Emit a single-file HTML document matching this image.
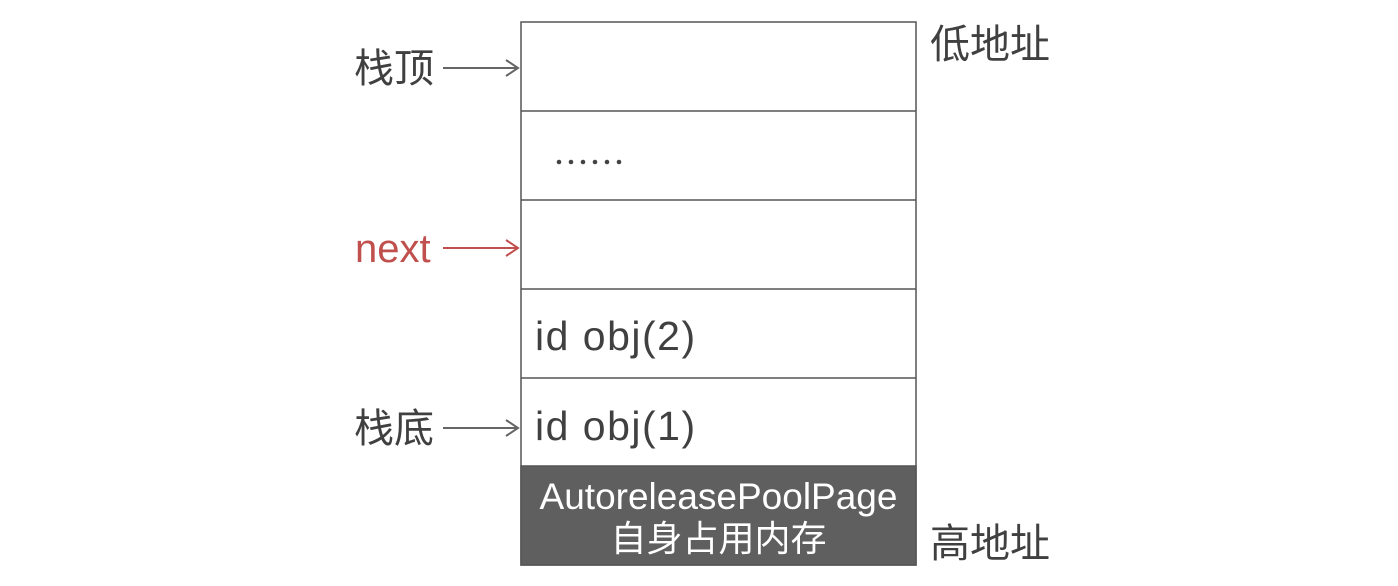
<!DOCTYPE html>
<html><head><meta charset="utf-8"><style>
html,body{margin:0;padding:0;background:#fff;}
body{width:1398px;height:586px;position:relative;overflow:hidden;font-family:"Liberation Sans","Noto Sans CJK SC",sans-serif;}
.t{position:absolute;font-size:40px;color:#404040;white-space:nowrap;line-height:1;}
</style></head><body>
<svg width="1398" height="586" style="position:absolute;left:0;top:0">
<g stroke="#555" stroke-width="1.5" fill="none">
<rect x="521" y="22" width="395" height="543"/>
<line x1="521" y1="111" x2="916" y2="111"/>
<line x1="521" y1="200" x2="916" y2="200"/>
<line x1="521" y1="289" x2="916" y2="289"/>
<line x1="521" y1="378" x2="916" y2="378"/>
</g>
<rect x="521" y="466" width="395" height="99" fill="#5f5f5f" stroke="#555" stroke-width="1.5"/>
<g stroke="#666" stroke-width="2" fill="none">
<line x1="443" y1="68" x2="518" y2="68"/><polyline points="506,60 518,68 506,76"/>
<line x1="443" y1="428" x2="518" y2="428"/><polyline points="506,420 518,428 506,436"/>
</g>
<g stroke="#c0504d" stroke-width="2" fill="none">
<line x1="443" y1="248" x2="518" y2="248"/><polyline points="506,240 518,248 506,256"/>
</g>
<g fill="#444">
<circle cx="559" cy="162" r="2.3"/><circle cx="571" cy="162" r="2.3"/><circle cx="583" cy="162" r="2.3"/>
<circle cx="595" cy="162" r="2.3"/><circle cx="607" cy="162" r="2.3"/><circle cx="619" cy="162" r="2.3"/>
</g>
</svg>
<div class="t" style="left:354px;top:49px;">栈顶</div>
<div class="t" style="left:355px;top:229px;color:#c0504d;">next</div>
<div class="t" style="left:354px;top:409px;">栈底</div>
<div class="t" style="left:930px;top:25px;">低地址</div>
<div class="t" style="left:930px;top:524px;">高地址</div>
<div class="t" style="left:535px;top:316px;font-size:41px;letter-spacing:1.5px;">id obj(2)</div>
<div class="t" style="left:535px;top:406px;font-size:41px;letter-spacing:1.5px;">id obj(1)</div>
<div class="t" style="left:521px;width:395px;text-align:center;top:478px;color:#fff;font-size:37px;">AutoreleasePoolPage</div>
<div class="t" style="left:521px;width:395px;text-align:center;top:521px;color:#fff;font-size:36px;">自身占用内存</div>
</body></html>
